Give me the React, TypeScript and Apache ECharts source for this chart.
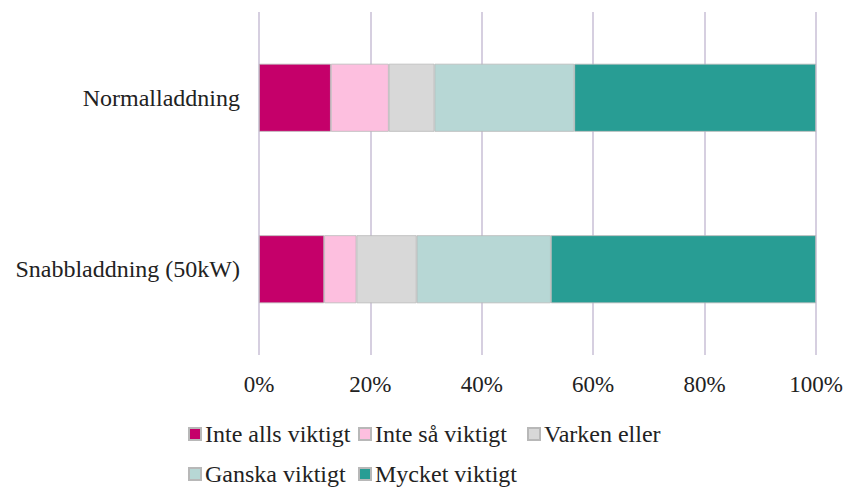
import React, { useEffect, useRef } from "react";
import * as echarts from "echarts";

const categories = ["Snabbladdning (50kW)", "Normalladdning"];
const seriesNames = ["Inte alls viktigt", "Inte så viktigt", "Varken eller", "Ganska viktigt", "Mycket viktigt"];
const inteAlls = [11.7, 12.9];
const inteSa = [5.8, 10.4];
const varken = [10.8, 8.2];
const ganska = [24.1, 25.1];
const mycket = [47.6, 43.4];
const colors = ["#c5006a", "#fdbfdf", "#d8d8d8", "#b7d7d5", "#289d94"];
const tickValues = [0, 20, 40, 60, 80, 100];

const values = [inteAlls, inteSa, varken, ganska, mycket];
const legendPos: [number, number][] = [
  [188, 422],
  [358, 422],
  [527, 422],
  [188, 462],
  [358, 462],
];

export default function App() {
  const ref = useRef<HTMLDivElement>(null);
  useEffect(() => {
    if (!ref.current) return;
    const chart = echarts.init(ref.current, null, { renderer: "svg" });
    const font = "'Liberation Serif', 'Times New Roman', serif";
    chart.setOption({
      animation: false,
      textStyle: { fontFamily: font },
      grid: { left: 259, right: 39, top: 12, bottom: 134 },
      xAxis: {
        type: "value",
        min: 0,
        max: 100,
        interval: 20,
        axisLine: { show: false },
        axisTick: { show: false },
        splitLine: { show: true, lineStyle: { color: "#d6cfe0", width: 2 } },
        axisLabel: {
          formatter: (v: number) => (tickValues.includes(v) ? v + "%" : ""),
          fontSize: 23,
          color: "#222",
          fontFamily: font,
          margin: 18,
        },
      },
      yAxis: {
        type: "category",
        data: categories,
        axisLine: { show: false },
        axisTick: { show: false },
        axisLabel: { fontSize: 24, color: "#222", fontFamily: font, margin: 19 },
      },
      legend: seriesNames.map((n, i) => ({
        data: [n],
        left: legendPos[i][0],
        top: legendPos[i][1],
        icon: "rect",
        itemWidth: 12,
        itemHeight: 12,
        itemGap: 5,
        textStyle: { fontSize: 24, color: "#222", fontFamily: font, padding: [0, 0, 0, -1] },
        padding: 0,
      })),
      series: seriesNames.map((n, i) => ({
        name: n,
        type: "bar",
        stack: "total",
        data: values[i],
        barWidth: 68,
        itemStyle: { color: colors[i], borderColor: "#b8b8b8", borderWidth: 0.8 },
      })),
    });
    return () => chart.dispose();
  }, []);
  return (
    <div
      ref={ref}
      style={{ position: "absolute", left: 0, top: 0, width: 855, height: 489 }}
    />
  );
}
